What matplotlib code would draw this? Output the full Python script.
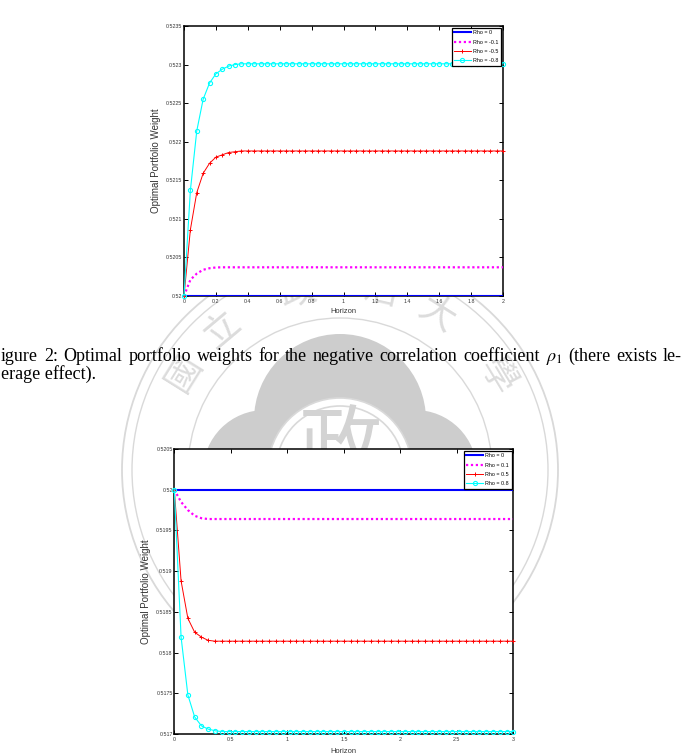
import numpy as np
import matplotlib
matplotlib.use("Agg")
import matplotlib.pyplot as plt
from matplotlib.patches import Circle

# ---------------- data ----------------
horizon_top = np.round(np.arange(51) * 0.04, 2)
top_rho0 = [0.5200] * 51
top_rho_m01 = [0.5200, 0.52021, 0.52029, 0.52034, 0.52036, 0.52037] + [0.520372] * 45
top_rho_m05 = [0.5200, 0.52086, 0.52134, 0.52159, 0.52172, 0.52180, 0.52183,
               0.52186, 0.52187] + [0.52188] * 42
top_rho_m08 = [0.5200, 0.52137, 0.52214, 0.52255, 0.52276, 0.52288, 0.52294,
               0.52298, 0.52300] + [0.52301] * 42
top_labels = ["Rho = 0", "Rho = -0.1", "Rho = -0.5", "Rho = -0.8"]
top_yticks = [0.520, 0.5205, 0.521, 0.5215, 0.522, 0.5225, 0.523, 0.5235]
top_yticklabels = ["0.52", "0.5205", "0.521", "0.5215", "0.522", "0.5225", "0.523", "0.5235"]
top_xticks = [0, 0.2, 0.4, 0.6, 0.8, 1, 1.2, 1.4, 1.6, 1.8, 2]
top_xticklabels = ["0", "0.2", "0.4", "0.6", "0.8", "1", "1.2", "1.4", "1.6", "1.8", "2"]

horizon_bot = np.round(np.arange(51) * 0.06, 2)
bot_rho0 = [0.5200] * 51
bot_rho01 = [0.5200, 0.51985, 0.51975, 0.51968, 0.51965] + [0.51964] * 46
bot_rho05 = [0.5200, 0.51888, 0.51842, 0.51825, 0.51819, 0.51815] + [0.51814] * 45
bot_rho08 = [0.5200, 0.51819, 0.51748, 0.51721, 0.51710, 0.51706, 0.51704] + [0.51703] * 44
bot_labels = ["Rho = 0", "Rho = 0.1", "Rho = 0.5", "Rho = 0.8"]
bot_yticks = [0.517, 0.5175, 0.518, 0.5185, 0.519, 0.5195, 0.520, 0.5205]
bot_yticklabels = ["0.517", "0.5175", "0.518", "0.5185", "0.519", "0.5195", "0.52", "0.5205"]
bot_xticks = [0, 0.5, 1, 1.5, 2, 2.5, 3]
bot_xticklabels = ["0", "0.5", "1", "1.5", "2", "2.5", "3"]

caption_line1 = ["igure", "2:", "Optimal", "portfolio", "weights", "for", "the",
                 "negative", "correlation", "coefficient", r"$\rho_1$", "(there",
                 "exists", "le-"]
caption_line2 = "erage effect)."

# ---------------- figure ----------------
W, H = 683, 754
fig = plt.figure(figsize=(W / 100, H / 100), dpi=100)
fig.patch.set_facecolor("white")
plt.rcParams["mathtext.fontset"] = "stix"

# watermark (background)
bg = fig.add_axes([0, 0, 1, 1], zorder=-10)
bg.set_xlim(0, W)
bg.set_ylim(H, 0)
bg.axis("off")
cx, cy = 340, 470
ring = "#d9d9d9"
for r, lw in [(218, 1.3), (208, 1.0), (152, 1.0)]:
    bg.add_patch(Circle((cx, cy), r, fill=False, ec=ring, lw=lw))
blob = "#cdcdcd"
for (x, y, r) in [(340, 420, 86), (265, 472, 62), (415, 472, 62), (340, 520, 88)]:
    bg.add_patch(Circle((x, y), r, fc=blob, ec="none"))
bg.add_patch(Circle((cx, cy), 72, fc="white", ec=ring, lw=1.2))
bg.add_patch(Circle((cx, cy), 64, fill=False, ec=ring, lw=1.2))
bg.text(cx, cy - 20, "政", fontsize=60, color="#d3d3d3", ha="center", va="center",
        family=["Noto Sans CJK TC", "DejaVu Sans"])
for ch, ang in [("國", 148), ("立", 130), ("政", 103), ("治", 77), ("大", 58), ("學", 31)]:
    a = np.deg2rad(ang)
    x = cx + 183 * np.cos(a)
    y = cy - 183 * np.sin(a)
    bg.text(x, y, ch, fontsize=26, color="#dcdcdc", ha="center", va="center",
            rotation=ang - 90, family=["Noto Sans CJK TC", "DejaVu Sans"])

sans = "Liberation Sans"


def style_axes(ax, xticks, xticklabels, yticks, yticklabels, xlim, ylim):
    ax.set_facecolor("white")
    ax.set_xlim(*xlim)
    ax.set_ylim(*ylim)
    ax.set_xticks(xticks)
    ax.set_xticklabels(xticklabels)
    ax.set_yticks(yticks)
    ax.set_yticklabels(yticklabels)
    ax.tick_params(direction="in", length=3, width=0.7, top=True, right=True,
                   labelsize=3.8, colors="black")
    ax.tick_params(axis="x", pad=2.2)
    ax.tick_params(axis="y", pad=1.2)
    for lab in ax.get_xticklabels() + ax.get_yticklabels():
        lab.set_family(sans)
        lab.set_color("#333333")
    for s in ax.spines.values():
        s.set_linewidth(1.1)
        s.set_color("black")


def draw_series(ax, x, s0, s1, s2, s3, labels):
    ax.plot(x, s0, color="#0000ff", lw=1.5, label=labels[0], zorder=3)
    ax.plot(x, s1, color="#ff00ff", lw=1.6, ls=(0, (1, 1.2)), label=labels[1], zorder=3)
    ax.plot(x, s2, color="#ff0000", lw=0.7, marker="+", ms=3.5, mew=0.7,
            label=labels[2], clip_on=False, zorder=4)
    ax.plot(x, s3, color="#00ffff", lw=0.8, marker="o", ms=3.0, mew=0.8,
            mfc="none", label=labels[3], clip_on=False, zorder=4)
    leg = ax.legend(loc="upper right", frameon=True, fancybox=False,
                    edgecolor="black", framealpha=1, borderpad=0.5,
                    handlelength=3.0, handletextpad=0.5, labelspacing=0.8,
                    borderaxespad=0.3, prop={"family": sans, "size": 3.9})
    leg.get_frame().set_linewidth(0.9)
    leg.set_zorder(10)


# top chart
ax1 = fig.add_axes([184 / W, 1 - 296 / H, 319 / W, 270 / H])
draw_series(ax1, horizon_top, top_rho0, top_rho_m01, top_rho_m05, top_rho_m08, top_labels)
style_axes(ax1, top_xticks, top_xticklabels, top_yticks, top_yticklabels,
           (0, 2), (0.520, 0.5235))
ax1.set_ylabel("Optimal Portfolio Weight", fontsize=7, family=sans, color="#333333")
ax1.yaxis.set_label_coords(-0.072, 0.5)
ax1.set_xlabel("Horizon", fontsize=5.4, family=sans, color="#333333")
ax1.xaxis.set_label_coords(0.5, -0.059)
ax1.xaxis.label.set_va("center")

# bottom chart
ax2 = fig.add_axes([174.3 / W, 1 - 734 / H, 339 / W, 285 / H])
draw_series(ax2, horizon_bot, bot_rho0, bot_rho01, bot_rho05, bot_rho08, bot_labels)
style_axes(ax2, bot_xticks, bot_xticklabels, bot_yticks, bot_yticklabels,
           (0, 3), (0.517, 0.5205))
ax2.set_ylabel("Optimal Portfolio Weight", fontsize=7, family=sans, color="#333333")
ax2.yaxis.set_label_coords(-0.069, 0.5)
ax2.set_xlabel("Horizon", fontsize=5.4, family=sans, color="#333333")
ax2.xaxis.set_label_coords(0.5, -0.06)
ax2.xaxis.label.set_va("center")

# caption (justified first line); font size chosen so that natural spacing fills the line
serif = "Liberation Serif"
x_left, x_right = 1.0, 682.0
fig.canvas.draw()
renderer = fig.canvas.get_renderer()


def measure(size):
    ws = []
    for w in caption_line1:
        t = fig.text(0, 0, w, fontsize=size, family=serif)
        ws.append(t.get_window_extent(renderer).width)
        t.remove()
    return ws


s0 = 11.5
ws0 = measure(s0)
space_px = 0.25 * s0 * 100 / 72
scale = (x_right - x_left) / (sum(ws0) + (len(ws0) - 1) * space_px * 1.25)
cap_size = s0 * scale
widths = measure(cap_size)
gap = (x_right - x_left - sum(widths)) / (len(widths) - 1)
xpos = x_left
base1 = 361
for w, wd in zip(caption_line1, widths):
    fig.text(xpos / W, 1 - base1 / H, w, fontsize=cap_size, family=serif,
             color="black", ha="left", va="baseline")
    xpos += wd + gap
fig.text(1 / W, 1 - 379 / H, caption_line2, fontsize=cap_size, family=serif,
         color="black", ha="left", va="baseline")

fig.savefig("out.png", dpi=100, facecolor="white")
